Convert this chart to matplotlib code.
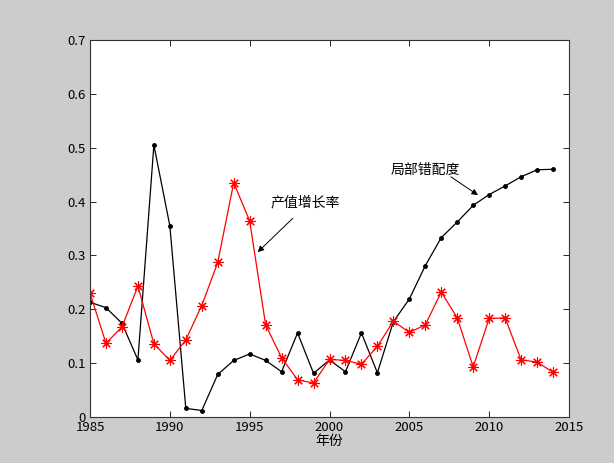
import numpy as np
import matplotlib
matplotlib.use('Agg')
import matplotlib.pyplot as plt

plt.rcParams['font.family'] = ['Noto Sans CJK SC', 'DejaVu Sans']

# 年份
years = list(range(1985, 2015))

# 局部错配度
mismatch = [0.213, 0.203, 0.174, 0.106, 0.505, 0.355, 0.016, 0.012, 0.079, 0.105,
            0.117, 0.105, 0.084, 0.156, 0.081, 0.106, 0.084, 0.156, 0.082, 0.177,
            0.219, 0.281, 0.333, 0.362, 0.393, 0.413, 0.429, 0.446, 0.459, 0.460]

# 产值增长率
growth = [0.230, 0.137, 0.167, 0.243, 0.136, 0.105, 0.143, 0.207, 0.287, 0.435,
          0.364, 0.171, 0.110, 0.069, 0.063, 0.107, 0.105, 0.098, 0.131, 0.178,
          0.157, 0.171, 0.232, 0.184, 0.093, 0.183, 0.184, 0.106, 0.102, 0.083]

xticks = [1985, 1990, 1995, 2000, 2005, 2010, 2015]
yticks = [0, 0.1, 0.2, 0.3, 0.4, 0.5, 0.6, 0.7]

fig = plt.figure(figsize=(6.14, 4.63), dpi=100, facecolor='#cccccc')
ax = fig.add_axes([0.1466, 0.0994, 0.7801, 0.8142])

ax.plot(years, mismatch, color='black', lw=0.9, marker='.', markersize=5)
ax.plot(years, growth, color='red', lw=0.9, marker=(8, 2, 0), markersize=7.5,
        markeredgewidth=0.8)

ax.set_xlim(1985, 2015)
ax.set_ylim(0, 0.7)
ax.set_xticks(xticks)
ax.set_yticks(yticks)
ax.set_yticklabels(['0', '0.1', '0.2', '0.3', '0.4', '0.5', '0.6', '0.7'])
ax.tick_params(direction='in', top=True, right=True, labelsize=9.5,
               length=4, width=0.6, pad=3)
for s in ax.spines.values():
    s.set_linewidth(0.8)
    s.set_color('#333333')

ax.set_xlabel('年份', fontsize=10, labelpad=0)

arrow = dict(arrowstyle='-|>', color='black', lw=0.7,
             mutation_scale=9, shrinkA=0, shrinkB=0)

ax.text(2003.8, 0.458, '局部错配度', fontsize=10, va='center', ha='left')
ax.annotate('', xy=(2009.3, 0.412), xytext=(2007.6, 0.446), arrowprops=arrow)

ax.text(1996.3, 0.398, '产值增长率', fontsize=10, va='center', ha='left')
ax.annotate('', xy=(1995.5, 0.306), xytext=(1997.7, 0.369), arrowprops=arrow)

fig.savefig('out.png', dpi=100, facecolor=fig.get_facecolor())
